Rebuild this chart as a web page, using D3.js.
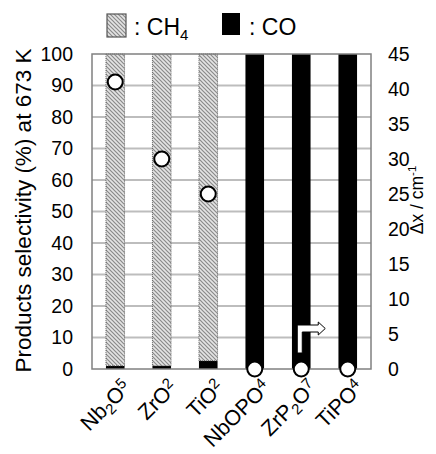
<!DOCTYPE html>
<html><head><meta charset="utf-8">
<script src="https://cdn.jsdelivr.net/npm/d3@7"></script>
<style>body{margin:0;background:#fff}svg{display:block;font-family:Arial,"Liberation Sans",sans-serif}</style>
</head><body><svg id="c" width="436" height="454"></svg>
<script>
const categories = ["Nb2O5","ZrO2","TiO2","NbOPO4","ZrP2O7","TiPO4"];
// label parts: [text, shift] shift: 0 normal, -1 sub, 1 super
const labelParts = [
  [["Nb",0],["2",-1],["O",0],["5",1]],
  [["ZrO",0],["2",1]],
  [["TiO",0],["2",1]],
  [["NbOPO",0],["4",1]],
  [["ZrP",0],["2",-1],["O",0],["7",1]],
  [["TiPO",0],["4",1]]
];
const ch4 = [99, 99, 97.4, 0, 0, 0];
const co  = [1, 1, 2.6, 100, 100, 100];
const deltaX = [41, 30, 25, 0, 0, 0];
const leftTicks = [0,10,20,30,40,50,60,70,80,90,100];
const rightTicks = [0,5,10,15,20,25,30,35,40,45];

const svg = d3.select("#c");
const L=92,R=371,T=54,B=369;
const x = d3.scaleBand().domain(categories).range([L,R]).paddingInner(0.6).paddingOuter(0.3);
const y = d3.scaleLinear().domain([0,100]).range([B,T]);
const y2 = d3.scaleLinear().domain([0,45]).range([B,T]);

const defs = svg.append("defs");
const pat = defs.append("pattern").attr("id","hatch").attr("patternUnits","userSpaceOnUse").attr("width",4).attr("height",4);
pat.append("rect").attr("width",4).attr("height",4).attr("fill","#e4e4e4");
pat.append("path").attr("d","M-1,-1L5,5M-1,3L1,5M3,-1L5,1").attr("stroke","#8a8a8a").attr("stroke-width",1.2);

// gridlines
svg.append("g").selectAll("line").data(leftTicks.slice(1,-1)).join("line")
  .attr("x1",L).attr("x2",R).attr("y1",d=>y(d)).attr("y2",d=>y(d))
  .attr("stroke","#bdbdbd").attr("stroke-width",2);

// bars
const g = svg.append("g");
categories.forEach((c,i)=>{
  const bx = x(c), bw = x.bandwidth();
  g.append("rect").attr("x",bx).attr("width",bw).attr("y",y(co[i])).attr("height",y(0)-y(co[i])).attr("fill","#000");
  if (ch4[i]>0) {
    g.append("rect").attr("x",bx).attr("width",bw).attr("y",y(co[i]+ch4[i])).attr("height",y(co[i])-y(co[i]+ch4[i]))
      .attr("fill","url(#hatch)").attr("stroke","#444").attr("stroke-width",0.8).attr("stroke-dasharray","1,1");
  }
});

// plot frame
svg.append("rect").attr("x",L).attr("y",T).attr("width",R-L).attr("height",B-T)
  .attr("fill","none").attr("stroke","#808080").attr("stroke-width",1.5);

// arrow on ZrP2O7
const ax = x("ZrP2O7") + x.bandwidth()/2 - 2;
svg.append("path")
  .attr("d",`M${ax-2},353 L${ax-2},325 L${ax+19},325 L${ax+19},322 L${ax+26},328.5 L${ax+19},335 L${ax+19},332 L${ax+3},332 L${ax+3},353 Z`)
  .attr("fill","#fff").attr("stroke","#000").attr("stroke-width",1);

// circles
svg.append("g").selectAll("circle").data(categories).join("circle")
  .attr("cx",d=>x(d)+x.bandwidth()/2).attr("cy",(d,i)=>y2(deltaX[i]))
  .attr("r",7.5).attr("fill","#fff").attr("stroke","#000").attr("stroke-width",2);

// left axis
const la = svg.append("g").attr("transform",`translate(${L},0)`)
  .call(d3.axisLeft(y).tickValues(leftTicks).tickSize(0).tickPadding(19));
la.select(".domain").remove();
la.selectAll("text").attr("font-size",19.5).attr("fill","#000").attr("font-family","Arial, 'Liberation Sans', sans-serif");

// right axis
const ra = svg.append("g").attr("transform",`translate(${R},0)`)
  .call(d3.axisRight(y2).tickValues(rightTicks).tickSize(0).tickPadding(17));
ra.select(".domain").remove();
ra.selectAll("text").attr("font-size",19.5).attr("fill","#000").attr("font-family","Arial, 'Liberation Sans', sans-serif");

// axis titles
svg.append("text").attr("transform",`translate(31,${(T+B)/2-1}) rotate(-90)`)
  .attr("text-anchor","middle").attr("font-size",22.5).text("Products selectivity (%) at 673 K");
const rt = svg.append("text").attr("transform",`translate(423,200) rotate(-90)`)
  .attr("text-anchor","middle").attr("font-size",17.5);
rt.append("tspan").text("Δx / cm");
rt.append("tspan").attr("font-size",11.5).attr("baseline-shift","7").text("-1");

// x labels
categories.forEach((c,i)=>{
  const cx = x(c)+x.bandwidth()/2;
  const t = svg.append("text").attr("transform",`translate(${cx+17},${389}) rotate(-45)`)
    .attr("text-anchor","end").attr("font-size",21.5);
  labelParts[i].forEach(([s,sh])=>{
    const ts = t.append("tspan").text(s);
    if (sh!==0) ts.attr("font-size",15).attr("baseline-shift", sh<0 ? "-4" : "7");
  });
});

// legend
svg.append("rect").attr("x",107).attr("y",14).attr("width",19).attr("height",23)
  .attr("fill","url(#hatch)").attr("stroke","#555").attr("stroke-width",1.2);
const lt1 = svg.append("text").attr("x",134).attr("y",35).attr("font-size",23);
lt1.append("tspan").text(": CH");
lt1.append("tspan").attr("font-size",15).attr("baseline-shift","-5").text("4");
svg.append("rect").attr("x",222).attr("y",13).attr("width",18).attr("height",22).attr("fill","#000");
svg.append("text").attr("x",249).attr("y",35).attr("font-size",23).text(": CO");
</script></body></html>
